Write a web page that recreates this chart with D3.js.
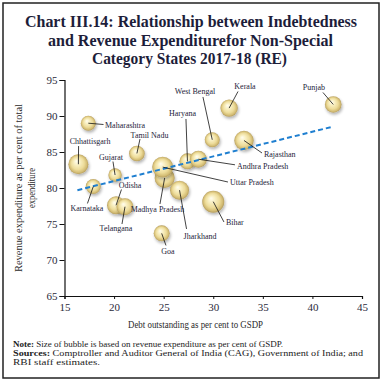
<!DOCTYPE html>
<html><head><meta charset="utf-8">
<script src="https://cdn.jsdelivr.net/npm/d3@7"></script>
<style>body{margin:0;background:#fff}</style>
</head><body><svg id="c" width="383" height="383"></svg>
<script>
// ---- data ----
const states = ["Maharashtra","Chhattisgarh","Tamil Nadu","Gujarat","Karnataka","Odisha","Telangana","Madhya Pradesh","Uttar Pradesh","Jharkhand","Haryana","Andhra Pradesh","West Bengal","Kerala","Punjab","Rajasthan","Bihar","Goa"];
const debt   = [17.4,16.4,22.3,20.1,17.9,20.2,21.1,25.1,24.9,26.6,27.4,28.5,29.9,31.6,42.1,33.1,30.0,24.8];
const revExp = [89.0,83.3,84.8,81.8,80.2,77.6,77.4,81.4,82.9,79.7,83.7,84.0,86.7,91.1,91.6,86.6,78.1,73.7];
const revGsdp = [9.8,17.4,10.6,7.8,9.8,14.1,12.5,17.4,19.1,15.7,11.1,12.5,9.8,13.1,12.0,16.3,21.0,11.1];
const xTicks = [15,20,25,30,35,40,45];
const yTicks = [65,70,75,80,85,90,95];
const trendDebt = [16.3, 42.0];
const trendRev  = [79.7, 88.5];
const titleLines = ["Chart III.14: Relationship between Indebtedness","and Revenue Expenditurefor Non-Special","Category States 2017-18 (RE)"];
const xTitle = "Debt outstanding as per cent to GSDP";
const yTitleLines = ["Revenue expenditure as per cent of total","expenditure"];

// ---- label layout (pixel offsets from bubble centre) ----
const labelOff = [[16.7,1.8,"start"],[11.7,-22.5,"middle"],[12.6,-18.4,"middle"],[-4.1,-17.7,"middle"],[-6.3,21.9,"middle"],[13.9,-19.6,"middle"],[-9,21.3,"middle"],[-7.2,31.1,"middle"],[67.3,14.9,"start"],[20.5,46.5,"middle"],[-5,-47.4,"middle"],[38.6,7.3,"start"],[-17.3,-48.1,"middle"],[15.9,-21.4,"middle"],[-19.3,-17.2,"middle"],[20,14.5,"start"],[12.7,20.6,"start"],[6.3,18.3,"middle"]];
const leadOff = [[15.2,1.3],[0.2,-18.2],[3.1,-14.4],[-2.1,-13.5],[-5.8,16.9],[5.4,-15.8],[-3,17.3],[-4.7,26.1],[65.3,14.9],[7,38.8],[-1.5,-42.4],[36.6,5.6],[-9.3,-42.8],[8.9,-16.6],[-10.3,-12],[18,12.5],[10.7,20.3],[4.3,12.1]];

const svg = d3.select("#c");
const ink = "#1d1d3a";
const serif = "'Liberation Serif','DejaVu Serif',serif";

// frame
svg.append("rect").attr("x",3).attr("y",3).attr("width",376).attr("height",375)
  .attr("fill","none").attr("stroke","#222").attr("stroke-width",1.5);

// title
const tl = [[25,332,27],[48,285,45.5],[92,195,64]];
titleLines.forEach((t,i)=>{
  svg.append("text").attr("x",tl[i][0]).attr("y",tl[i][2]).attr("textLength",tl[i][1])
    .attr("lengthAdjust","spacingAndGlyphs")
    .attr("font-family",serif).attr("font-weight","bold").attr("font-size",16)
    .attr("fill",ink).text(t);
});

// defs
const defs = svg.append("defs");
const g = defs.append("radialGradient").attr("id","bub").attr("cx","50%").attr("cy","50%").attr("r","50%").attr("fx","40%").attr("fy","34%");
[["0%","#fffdf0"],["30%","#f9f0c4"],["65%","#eddc9a"],["88%","#d3bc74"],["100%","#b39c5e"]].forEach(s=>g.append("stop").attr("offset",s[0]).attr("stop-color",s[1]));
const f = defs.append("filter").attr("id","sh").attr("x","-50%").attr("y","-50%").attr("width","200%").attr("height","200%");
f.append("feGaussianBlur").attr("in","SourceAlpha").attr("stdDeviation",1.5).attr("result","b");
f.append("feOffset").attr("in","b").attr("dx",0.5).attr("dy",1.5).attr("result","o");
f.append("feComponentTransfer").attr("in","o").attr("result","o2").append("feFuncA").attr("type","linear").attr("slope",0.3);
const fm = f.append("feMerge"); fm.append("feMergeNode").attr("in","o2"); fm.append("feMergeNode").attr("in","SourceGraphic");

// scales
const x = d3.scaleLinear().domain([15,45]).range([64.5,362]);
const y = d3.scaleLinear().domain([65,95]).range([296,80]);
const r = d3.scaleSqrt().domain([0,25]).range([0,12]);

// axes
const xa = svg.append("g").attr("transform","translate(0,296)")
  .call(d3.axisBottom(x).tickValues(xTicks).tickSize(3).tickPadding(4).tickFormat(d3.format("d")));
const ya = svg.append("g").attr("transform","translate(64.5,0)")
  .call(d3.axisLeft(y).tickValues(yTicks).tickSize(5).tickPadding(2).tickFormat(d3.format("d")));
[xa,ya].forEach(a=>{
  a.select(".domain").attr("stroke","#111").attr("stroke-width",1.2);
  a.selectAll(".tick line").attr("stroke","#111");
  a.selectAll("text").attr("font-family",serif).attr("font-size",11).attr("fill","#2a2a3a");
});

// axis titles
svg.append("text").attr("x",195.5).attr("y",328).attr("text-anchor","middle")
  .attr("font-family",serif).attr("font-size",10).attr("fill","#2a2a2a")
  .attr("textLength",135).attr("lengthAdjust","spacingAndGlyphs").text(xTitle);
const yx = [18.5,31.5], yl=[168,40];
yTitleLines.forEach((t,i)=>{
  svg.append("text").attr("transform",`translate(${yx[i]},188) rotate(-90)`)
    .attr("text-anchor","middle").attr("dominant-baseline","central")
    .attr("font-family",serif).attr("font-size",10).attr("fill","#2a2a2a")
    .attr("textLength",yl[i]).attr("lengthAdjust","spacingAndGlyphs").text(t);
});

// data rows
const rows = states.map((s,i)=>({s,d:debt[i],v:revExp[i],z:revGsdp[i],lo:labelOff[i],le:leadOff[i]}));

// bubbles
svg.append("g").selectAll("circle").data(rows).join("circle")
  .attr("cx",d=>x(d.d)).attr("cy",d=>y(d.v)).attr("r",d=>r(d.z))
  .attr("fill","url(#bub)").attr("filter","url(#sh)");

// trend line
svg.append("path").datum(trendDebt.map((d,i)=>[d,trendRev[i]]))
  .attr("d",d3.line().x(d=>x(d[0])).y(d=>y(d[1])))
  .attr("fill","none").attr("stroke","#1f7fd0").attr("stroke-width",2).attr("stroke-dasharray","5,3");

// leaders
svg.append("g").selectAll("line").data(rows).join("line")
  .attr("x1",d=>x(d.d)).attr("y1",d=>y(d.v))
  .attr("x2",d=>x(d.d)+d.le[0]).attr("y2",d=>y(d.v)+d.le[1])
  .attr("stroke","#111").attr("stroke-width",0.8);

// labels
svg.append("g").selectAll("text").data(rows).join("text")
  .attr("x",d=>x(d.d)+d.lo[0]).attr("y",d=>y(d.v)+d.lo[1])
  .attr("text-anchor",d=>d.lo[2]).attr("dominant-baseline","central")
  .attr("font-family",serif).attr("font-size",8).attr("fill",ink).text(d=>d.s);

// notes
const note = svg.append("text").attr("x",13).attr("y",346.5).attr("font-family",serif).attr("font-size",8.5).attr("fill","#222")
  .attr("textLength",270).attr("lengthAdjust","spacingAndGlyphs");
note.append("tspan").attr("font-weight","bold").text("Note:");
note.append("tspan").text(" Size of bubble is based on revenue expenditure as per cent of GSDP.");
const src = svg.append("text").attr("x",13).attr("y",355.5).attr("font-family",serif).attr("font-size",8.5).attr("fill","#222")
  .attr("textLength",350).attr("lengthAdjust","spacingAndGlyphs");
src.append("tspan").attr("font-weight","bold").text("Sources:");
src.append("tspan").text(" Comptroller and Auditor General of India (CAG), Government of India; and");
svg.append("text").attr("x",13).attr("y",364.5).attr("font-family",serif).attr("font-size",8.5).attr("fill","#222")
  .attr("textLength",87).attr("lengthAdjust","spacingAndGlyphs").text("RBI staff estimates.");
</script></body></html>
